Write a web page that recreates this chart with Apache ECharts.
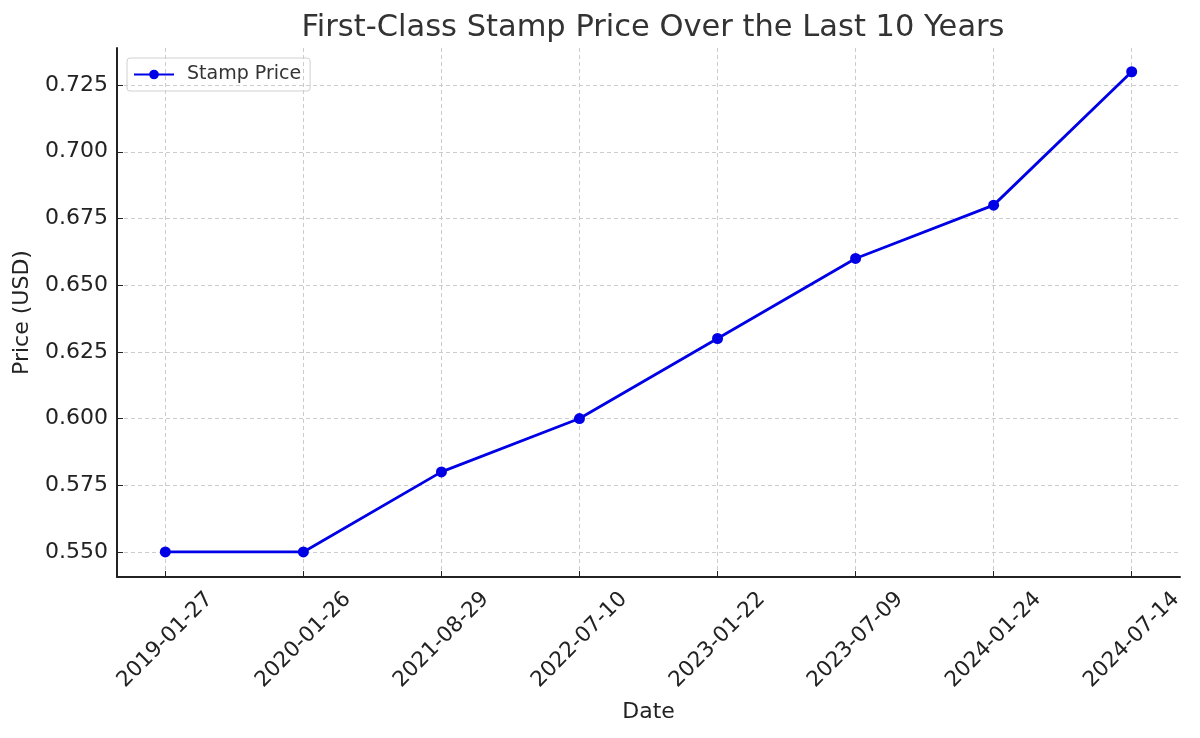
<!DOCTYPE html>
<html>
<head>
<meta charset="utf-8">
<title>First-Class Stamp Price</title>
<script src="https://cdn.jsdelivr.net/npm/echarts@6/dist/echarts.min.js"></script>
<style>
  html, body { margin: 0; padding: 0; background: #fff; }
  #chart { width: 1200px; height: 738px; }
</style>
</head>
<body>
<div id="chart"></div>
<script>
// データ
const dates = ['2019-01-27', '2020-01-26', '2021-08-29', '2022-07-10',
               '2023-01-22', '2023-07-09', '2024-01-24', '2024-07-14'];
const prices = [0.55, 0.55, 0.58, 0.60, 0.63, 0.66, 0.68, 0.73];
const yTicks = [0.550, 0.575, 0.600, 0.625, 0.650, 0.675, 0.700, 0.725];

const xTicks = dates.map((d, i) => i);
const font = 'DejaVu Sans';

const chart = echarts.init(document.getElementById('chart'));

const option = {
    animation: false,
    backgroundColor: '#fff',
    title: {
        text: 'First-Class Stamp Price Over the Last 10 Years',
        left: 648,
        textAlign: 'center',
        top: 8,
        textStyle: { fontFamily: font, fontSize: 30.5, fontWeight: 'normal', color: '#333' }
    },
    legend: {
        data: ['Stamp Price'],
        left: 127,
        top: 58,
        itemWidth: 40,
        itemHeight: 12,
        padding: [7, 9, 7, 6],
        borderColor: '#d0d0d0',
        borderWidth: 1,
        borderRadius: 3,
        textStyle: { fontFamily: font, fontSize: 19, color: '#333', padding: [0, 0, 0, 8] }
    },
    grid: { left: 117, right: 20, top: 48, bottom: 161 },
    xAxis: {
        type: 'value',
        min: -0.35,
        max: 7.35,
        name: 'Date',
        nameLocation: 'middle',
        nameGap: 124,
        nameTextStyle: { fontFamily: font, fontSize: 22, color: '#222' },
        axisLine: { onZero: false, lineStyle: { color: '#222', width: 2 } },
        axisTick: { inside: true, length: 6, customValues: xTicks, lineStyle: { color: '#222' } },
        axisLabel: {
            customValues: xTicks,
            rotate: 45,
            align: 'center',
            verticalAlign: 'middle',
            margin: 63,
            fontFamily: font,
            fontSize: 21.5,
            color: '#222',
            formatter: v => dates[Math.round(v)]
        },
        splitLine: { show: true, lineStyle: { color: '#ccc', type: [4, 3], width: 1 } }
    },
    yAxis: {
        type: 'value',
        min: 0.5406,
        max: 0.7389,
        name: 'Price (USD)',
        nameLocation: 'middle',
        nameGap: 84,
        nameTextStyle: { fontFamily: font, fontSize: 22, color: '#222' },
        axisLine: { show: true, onZero: false, lineStyle: { color: '#222', width: 2 } },
        axisTick: { show: true, inside: true, length: 6, customValues: yTicks, lineStyle: { color: '#222' } },
        axisLabel: {
            customValues: yTicks,
            margin: 9,
            fontFamily: font,
            fontSize: 22,
            color: '#222',
            formatter: v => v.toFixed(3)
        },
        splitLine: { show: true, lineStyle: { color: '#ccc', type: [4, 3], width: 1 } }
    },
    series: [
        {
            name: 'Stamp Price',
            type: 'line',
            data: prices.map((p, i) => [i, p]),
            symbol: 'circle',
            symbolSize: 11,
            lineStyle: { color: '#0000e6', width: 2.8 },
            itemStyle: { color: '#0000e6' }
        }
    ]
};

chart.setOption(option);
</script>
</body>
</html>
